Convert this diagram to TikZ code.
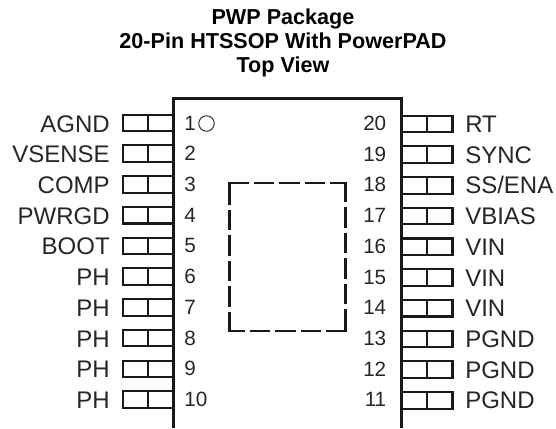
\documentclass[tikz,border=0pt]{standalone}
\usepackage{fontspec}
\setmainfont{Liberation Sans}
\tikzset{
  pinbox/.style={draw=black!90,line width=1.55pt},
  body/.style={draw=black!90,line width=2.6pt},
  padside/.style={draw=black!90,line width=1.6pt,line cap=rect,dash pattern=on 13.6pt off 5.5pt},
  lab/.style={font=\fontsize{18}{20}\selectfont,text=black!85,inner sep=0pt},
  num/.style={font=\fontsize{15.5}{18}\selectfont,text=black!85,inner sep=0pt},
}
\begin{document}
\begin{tikzpicture}[x=0.75pt,y=-0.75pt]
\useasboundingbox (0,0) rectangle (556,428);
\node[font=\bfseries\fontsize{16.2}{18.1}\selectfont,align=center,inner sep=0pt] (title) at (283,43) {PWP Package\\20-Pin HTSSOP With PowerPAD\\Top View};
\foreach \n/\t [count=\i from 0] in {1/AGND,2/VSENSE,3/COMP,4/PWRGD,5/BOOT,6/PH,7/PH,8/PH,9/PH,10/PH}{
  \pgfmathsetmacro{\yy}{123+30.73*\i}
  \draw[pinbox] (173,\yy-8.3) rectangle (123,\yy+8.3);
  \draw[pinbox] (148,\yy-8.3) -- (148,\yy+8.3);
  \node[lab,anchor=base east] (l\n) at (110,\yy+9) {\t};
  \node[num,anchor=base west] (n\n) at (184,\yy+7) {\n};
}
\foreach \n/\t [count=\i from 0] in {20/RT,19/SYNC,18/{SS/ENA},17/VBIAS,16/VIN,15/VIN,14/VIN,13/PGND,12/PGND,11/PGND}{
  \pgfmathsetmacro{\yy}{124+30.7*\i}
  \draw[pinbox] (401,\yy-8.3) rectangle (452.5,\yy+8.3);
  \draw[pinbox] (427.3,\yy-8.3) -- (427.3,\yy+8.3);
  \node[lab,anchor=base west] (l\n) at (465,\yy+8.5) {\t};
  \node[num,anchor=base east] (n\n) at (386.5,\yy+6.5) {\n};
}
\draw[body] (173.3,428) -- (173.3,98.3) -- (401.3,98.3) -- (401.3,428);
\node[draw=black!85,line width=0.7pt,circle,minimum size=11.6pt,inner sep=0pt] (dot) at (206.5,123.5) {};
\coordinate (tl) at (229.5,183);
\coordinate (tr) at (345.5,183);
\coordinate (bl) at (229.5,331);
\coordinate (br) at (345.5,331);
\draw[padside] (tl) -- (tr);
\draw[padside] (tr) -- (br);
\draw[padside] (br) -- (bl);
\draw[padside] (bl) -- (tl);
\end{tikzpicture}
\end{document}
